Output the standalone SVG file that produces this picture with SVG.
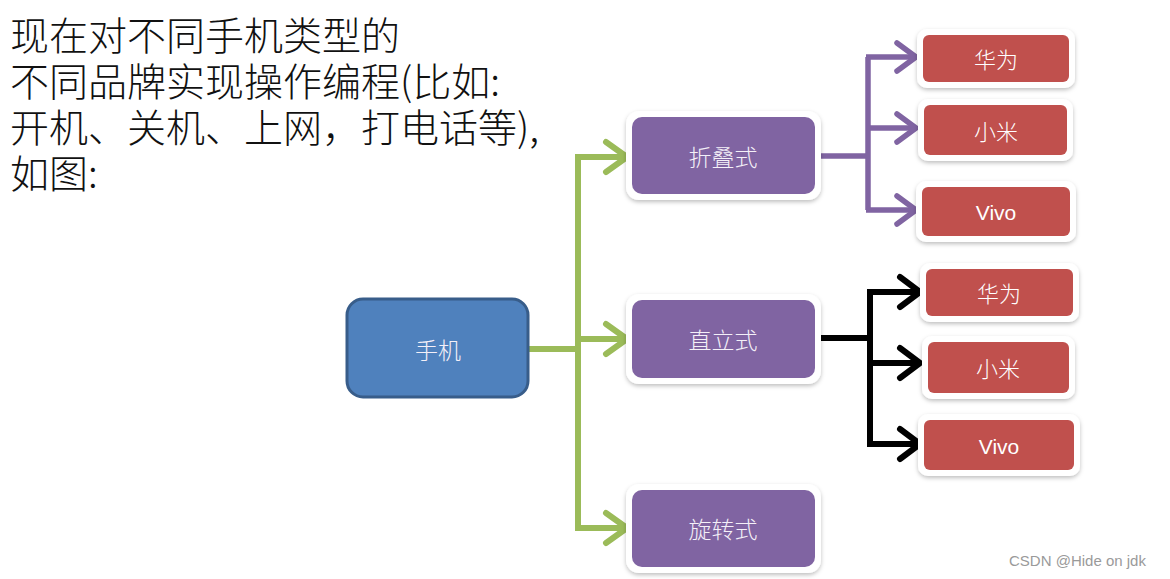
<svg xmlns="http://www.w3.org/2000/svg" width="1170" height="579" viewBox="0 0 1170 579">
<style>
.title{font-family:"Noto Sans CJK SC","Liberation Sans",sans-serif;font-size:39px;font-weight:300;fill:#111}
.lbl{font-family:"Noto Sans CJK SC","Liberation Sans",sans-serif;font-size:23px;font-weight:300;fill:#F4F0F8;text-anchor:middle;dominant-baseline:central}
.cjk{font-family:"Noto Sans CJK SC","Liberation Sans",sans-serif;font-size:22px;font-weight:300;fill:#FFFFFF;text-anchor:middle;dominant-baseline:central}
.lat{font-family:"Liberation Sans","Noto Sans CJK SC",sans-serif;font-size:21px;fill:#FFFFFF;text-anchor:middle;dominant-baseline:central}
.frame{fill:#FFFFFF;filter:url(#sh)}
.purple{fill:#8064A2}
.red{fill:#C0504D}
.g{fill:none;stroke:#9BBB59;stroke-width:6;stroke-linecap:butt;stroke-linejoin:miter}
.gh{fill:none;stroke:#9BBB59;stroke-width:6;stroke-linecap:round;stroke-linejoin:round}
.p{fill:none;stroke:#8064A2;stroke-width:5.5;stroke-linejoin:miter}
.ph{fill:none;stroke:#8064A2;stroke-width:5.5;stroke-linecap:round;stroke-linejoin:round}
.k{fill:none;stroke:#000000;stroke-width:6;stroke-linejoin:miter}
.kh{fill:none;stroke:#000000;stroke-width:6;stroke-linecap:round;stroke-linejoin:round}
.wm{font-family:"Liberation Sans",sans-serif;font-size:15px;fill:#9A9A9A}
</style>
<defs>
<filter id="sh" x="-20%" y="-30%" width="140%" height="160%">
<feDropShadow dx="0" dy="2" stdDeviation="2" flood-color="#000" flood-opacity="0.25"/>
</filter>
</defs>
<rect width="1170" height="579" fill="#FFFFFF"/>

<g id="intro">
<text class="title" x="10" y="50"><tspan x="10" y="50">现在对不同手机类型的</tspan><tspan x="10" y="96">不同品牌实现操作编程(比如:</tspan><tspan x="10" y="142">开机、关机、上网，打电话等),</tspan><tspan x="10" y="188">如图:</tspan></text>
</g>

<g id="connectors">
<path class="g" d="M528,349 H578 M578,157 V528 M575,157 H624 M578,339 H624 M575,528 H624"/>
<polyline class="gh" points="606,142 627,157 606,172"/>
<polyline class="gh" points="606,324 627,339 606,354"/>
<polyline class="gh" points="606,513 627,528 606,543"/>

<path class="p" d="M815,156 H868 M868,57 V210 M866,57 H914 M868,128 H914 M866,210 H914"/>
<polyline class="ph" points="897,43 916,57 897,71"/>
<polyline class="ph" points="897,114 916,128 897,142"/>
<polyline class="ph" points="897,196 916,210 897,224"/>

<path class="k" d="M815,338 H870 M870,292 V444 M867,292 H918 M870,363 H918 M867,444 H918"/>
<polyline class="kh" points="900,277 920,292 900,307"/>
<polyline class="kh" points="900,348 920,363 900,378"/>
<polyline class="kh" points="900,429 920,444 900,459"/>
</g>

<g id="phone">
<rect x="347" y="299" width="181" height="98" rx="16" fill="#4F81BD" stroke="#385D8A" stroke-width="3"/>
<text class="lbl" x="438" y="349">手机</text>
</g>

<g id="fold">
<rect class="frame" x="626" y="111" width="195" height="89" rx="13"/>
<rect class="purple" x="632" y="117" width="183" height="77" rx="10"/>
<text class="lbl" x="723" y="156">折叠式</text>
</g>

<g id="bar">
<rect class="frame" x="626" y="294" width="195" height="90" rx="13"/>
<rect class="purple" x="632" y="300" width="183" height="78" rx="10"/>
<text class="lbl" x="723" y="339">直立式</text>
</g>

<g id="rotate">
<rect class="frame" x="626" y="484" width="195" height="89" rx="13"/>
<rect class="purple" x="632" y="490" width="183" height="77" rx="10"/>
<text class="lbl" x="723" y="528">旋转式</text>
</g>

<g id="fold-huawei">
<rect class="frame" x="917" y="29" width="158" height="59" rx="10"/>
<rect class="red" x="923" y="35" width="146" height="47" rx="6"/>
<text class="cjk" x="996" y="58">华为</text>
</g>
<g id="fold-xiaomi">
<rect class="frame" x="918" y="99" width="155" height="62" rx="10"/>
<rect class="red" x="924" y="105" width="143" height="50" rx="6"/>
<text class="cjk" x="996" y="130">小米</text>
</g>
<g id="fold-vivo">
<rect class="frame" x="916" y="181" width="160" height="61" rx="10"/>
<rect class="red" x="922" y="187" width="148" height="49" rx="6"/>
<text class="lat" x="996" y="212">Vivo</text>
</g>

<g id="bar-huawei">
<rect class="frame" x="920" y="263" width="159" height="59" rx="10"/>
<rect class="red" x="926" y="269" width="147" height="47" rx="6"/>
<text class="cjk" x="999" y="292">华为</text>
</g>
<g id="bar-xiaomi">
<rect class="frame" x="922" y="336" width="153" height="63" rx="10"/>
<rect class="red" x="928" y="342" width="141" height="51" rx="6"/>
<text class="cjk" x="998" y="367">小米</text>
</g>
<g id="bar-vivo">
<rect class="frame" x="918" y="414" width="162" height="62" rx="10"/>
<rect class="red" x="924" y="420" width="150" height="50" rx="6"/>
<text class="lat" x="999" y="446">Vivo</text>
</g>

<text class="wm" x="1009" y="566">CSDN @Hide on jdk</text>
</svg>
